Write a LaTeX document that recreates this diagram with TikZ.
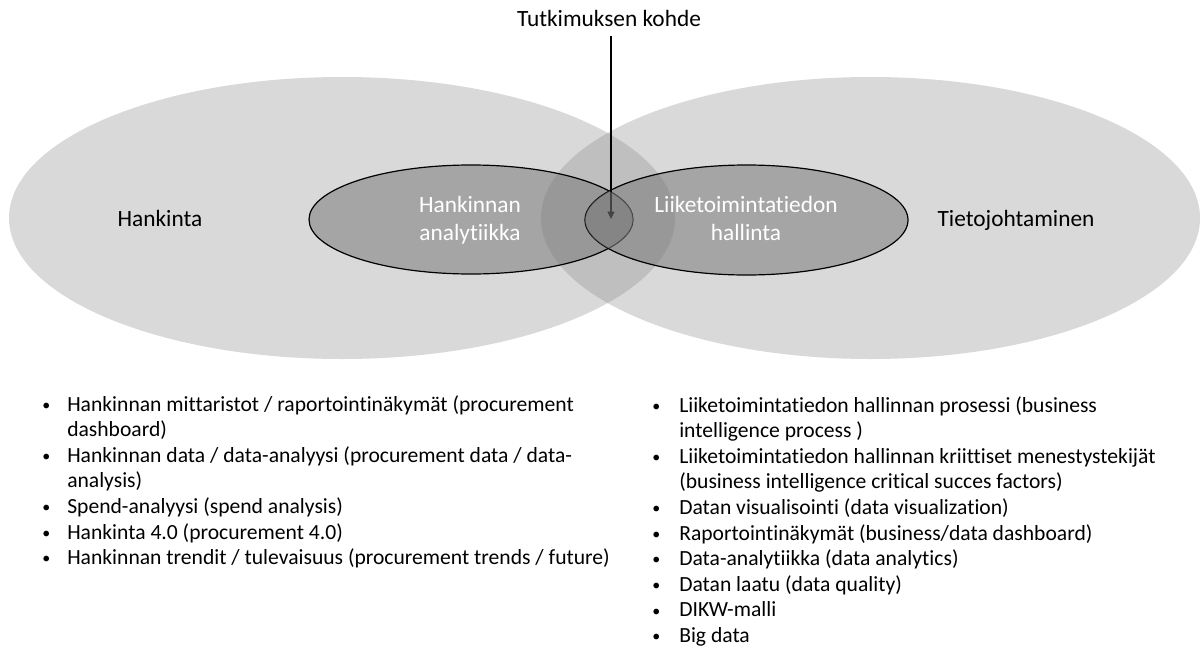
\documentclass[tikz,border=0pt]{standalone}
\usepackage{fontspec}
\setmainfont{Carlito}[Ligatures={NoCommon}]
\usetikzlibrary{shapes.geometric,arrows.meta}
\newcommand{\bul}{\raisebox{0.6pt}{\fontsize{12}{12}\selectfont •}}
\begin{document}
\begin{tikzpicture}[x=0.75pt,y=-0.75pt,
  bigell/.style={ellipse, fill=black!47, fill opacity=0.316, draw=none, inner sep=0pt, outer sep=0pt},
  smallell/.style={ellipse, fill=black!55, fill opacity=0.5, draw=black, draw opacity=1, line width=0.9pt, inner sep=0pt, outer sep=0pt},
  lbl/.style={font=\fontsize{17.5}{21}\selectfont, text=black, inner sep=0pt, anchor=base},
  inlbl/.style={lbl, text=white, align=center},
  listbox/.style={font=\fontsize{16.2}{19.2}\selectfont, inner sep=0pt, anchor=base west},
  pointer/.style={line width=1.2pt, -{Triangle[length=5.5pt,width=5pt]}}
]
\useasboundingbox (0,0) rectangle (1201,653);

% large ellipses
\node[bigell, minimum width=499.5pt, minimum height=211.5pt] (hank) at (342,218) {};
\node[bigell, minimum width=494.25pt, minimum height=211.5pt] (tieto) at (870.5,218) {};

% small ellipses
\node[smallell, minimum width=243pt, minimum height=81.75pt] (hanal) at (471,219.5) {};
\node[smallell, minimum width=242.25pt, minimum height=82.5pt] (bi) at (746.5,220) {};

% pointer
\node[lbl] (kohde) at (609,26.7) {Tutkimuksen kohde};
\coordinate (tip) at (611,219);
\draw[pointer] (kohde.south) ++(2,9) coordinate (tail) -- (tip);

% overlap of the small ellipses
\begin{scope}
  \clip (471,219.5) ellipse [x radius=121.5pt, y radius=40.875pt];
  \fill[black!47.5, fill opacity=0.5] (746.5,220) ellipse [x radius=121.125pt, y radius=41.25pt];
\end{scope}

% labels
\node[lbl] (thank) at (160,226.7) {Hankinta};
\node[lbl] (ttieto) at (1016,226.7) {Tietojohtaminen};
\node[inlbl] (thanal) at (470,240) {Hankinnan\\analytiikka};
\node[inlbl] (tbi) at (746,240) {Liiketoimintatiedon\\hallinta};

% lists
\node[listbox] (leftlist) at (42,411) {%
\renewcommand{\arraystretch}{1}%
\begin{tabular}[t]{@{}p{18.75pt}@{}l@{}}
\bul & Hankinnan mittaristot / raportointinäkymät (procurement\\
  & dashboard)\\
\bul & Hankinnan data / data-analyysi (procurement data / data-\\
  & analysis)\\
\bul & Spend-analyysi (spend analysis)\\
\bul & Hankinta 4.0 (procurement 4.0)\\
\bul & Hankinnan trendit / tulevaisuus (procurement trends / future)
\end{tabular}};
\node[listbox] (rightlist) at (652,412) {%
\renewcommand{\arraystretch}{1}%
\begin{tabular}[t]{@{}p{20.25pt}@{}l@{}}
\bul & Liiketoimintatiedon hallinnan prosessi (business\\
  & intelligence process )\\
\bul & Liiketoimintatiedon hallinnan kriittiset menestystekijät\\
  & (business intelligence critical succes factors)\\
\bul & Datan visualisointi (data visualization)\\
\bul & Raportointinäkymät (business/data dashboard)\\
\bul & Data-analytiikka (data analytics)\\
\bul & Datan laatu (data quality)\\
\bul & DIKW-malli\\
\bul & Big data
\end{tabular}};
\end{tikzpicture}
\end{document}
